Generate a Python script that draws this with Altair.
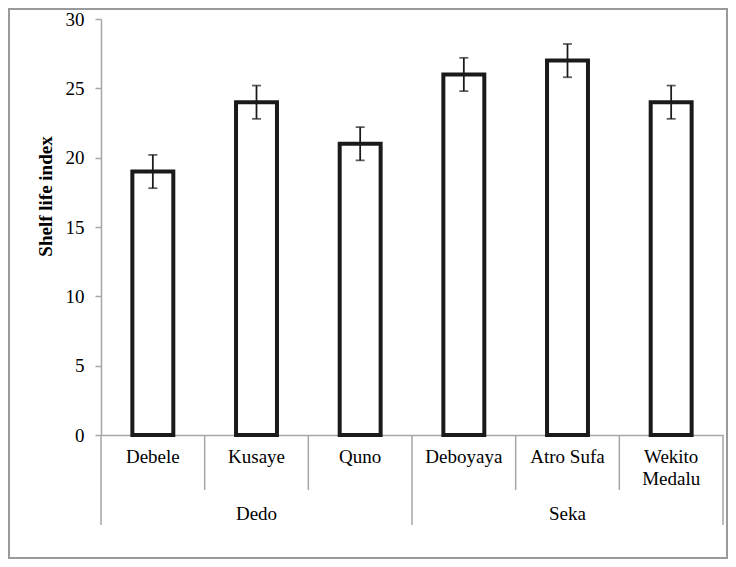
import altair as alt
import pandas as pd

# ---- data ----
cultivars = ["Debele", "Kusaye", "Quno", "Deboyaya", "Atro Sufa", "Wekito Medalu"]
cultivar_labels = ["Debele", "Kusaye", "Quno", "Deboyaya", "Atro Sufa", "Wekito\nMedalu"]
locations = ["Dedo", "Dedo", "Dedo", "Seka", "Seka", "Seka"]
shelf_life = [19, 24, 21, 26, 27, 24]
std_err = [1.2, 1.2, 1.2, 1.2, 1.2, 1.2]
y_ticks = [0, 5, 10, 15, 20, 25, 30]

FONT = "Liberation Serif"
GRAY = "#a6a6a6"
INK = "#1a1a1a"

df = pd.DataFrame({
    "cat": cultivars,
    "label": cultivar_labels,
    "loc": locations,
    "val": shelf_life,
    "err": std_err,
})
df["lo"] = df["val"] - df["err"]
df["hi"] = df["val"] + df["err"]
df["first_in_group"] = df["loc"] != df["loc"].shift(1)
df["last"] = False
df.loc[df.index[-1], "last"] = True

# group label placed at the middle cultivar of each location
mid = df.groupby("loc")["cat"].apply(lambda s: s.iloc[len(s) // 2]).reset_index()
mid.columns = ["loc", "cat"]

xscale = alt.Scale(domain=cultivars, paddingInner=0, paddingOuter=0)
xaxis = alt.Axis(labels=False, ticks=False, title=None, domainColor=GRAY,
                 domainWidth=1.5, grid=False)


def X(**kw):
    return alt.X("cat:N", scale=xscale, axis=xaxis, sort=cultivars, **kw)


base = alt.Chart(df)

bars = base.mark_bar(
    fill="white", stroke=INK, strokeWidth=4,
    width=alt.RelativeBandSize(0.395)
).encode(
    x=X(),
    y=alt.Y("val:Q", scale=alt.Scale(domain=[0, 30], nice=False),
            axis=alt.Axis(values=y_ticks, grid=False, domainColor=GRAY,
                          domainWidth=1.5, tickColor=GRAY, tickWidth=1.5,
                          tickSize=6, labelFont=FONT, labelFontSize=19,
                          labelColor="black", labelPadding=11,
                          title="Shelf life index", titleFont=FONT,
                          titleFontSize=19, titleFontWeight="bold",
                          titleColor="black", titleAngle=-90,
                          titleAlign="center", titleBaseline="middle",
                          titleX=-56, titleY=177)),
)

err_rule = base.mark_rule(color=INK, strokeWidth=1.75).encode(
    x=X(), y="lo:Q", y2="hi:Q"
)
err_low = base.mark_tick(color=INK, thickness=1.75, size=9).encode(x=X(), y="lo:Q")
err_high = base.mark_tick(color=INK, thickness=1.75, size=9).encode(x=X(), y="hi:Q")

cat_text = base.mark_text(
    font=FONT, fontSize=19, color="black", lineBreak="\n",
    baseline="alphabetic", align="center", lineHeight=22
).encode(x=X(), y=alt.value(444), text="label:N")

grp_text = alt.Chart(mid).mark_text(
    font=FONT, fontSize=19, color="black", baseline="alphabetic", align="center"
).encode(x=X(), y=alt.value(501), text="loc:N")

short_sep = base.transform_filter("!datum.first_in_group").mark_rule(
    color=GRAY, strokeWidth=1.5
).encode(x=X(bandPosition=0), y=alt.value(416), y2=alt.value(471))

long_sep = base.transform_filter("datum.first_in_group").mark_rule(
    color=GRAY, strokeWidth=1.5
).encode(x=X(bandPosition=0), y=alt.value(416), y2=alt.value(506))

end_sep = base.transform_filter("datum.last").mark_rule(
    color=GRAY, strokeWidth=1.5
).encode(x=X(bandPosition=1), y=alt.value(416), y2=alt.value(506))

frame = alt.Chart(pd.DataFrame({"f": [0]})).mark_rect(
    filled=False, stroke="#9a9a9a", strokeWidth=2
).encode(x=alt.value(-92), x2=alt.value(626), y=alt.value(-10), y2=alt.value(539))

chart = alt.layer(
    short_sep, long_sep, end_sep, bars, err_rule, err_low, err_high,
    cat_text, grp_text, frame
).properties(
    width=622, height=416,
    autosize=alt.AutoSizeParams(type="none"),
    padding={"left": 93, "top": 11, "right": 5, "bottom": 124},
).configure_view(stroke=None)

chart.save("out.html", embed_options={"renderer": "svg", "actions": False})
